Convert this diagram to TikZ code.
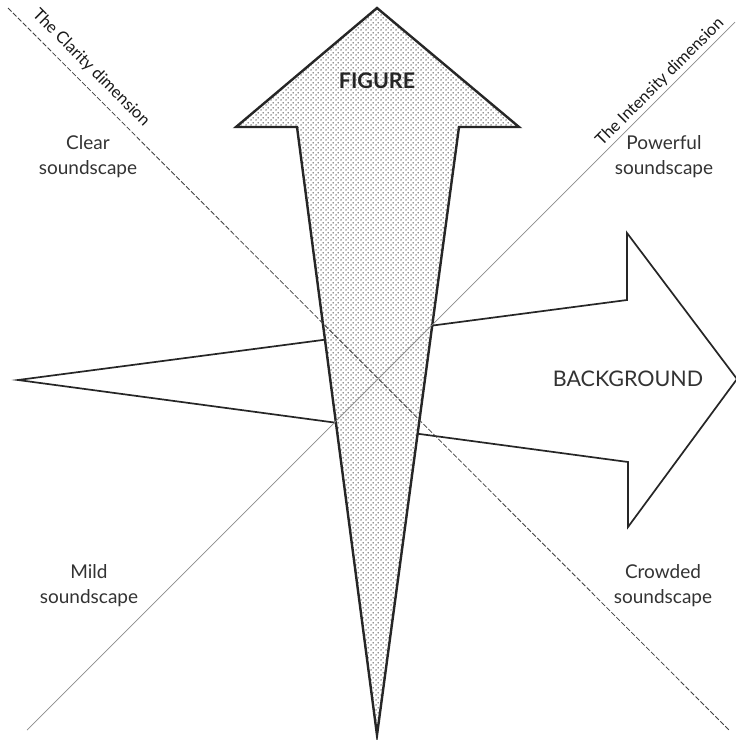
\documentclass[tikz,border=0pt]{standalone}
\usepackage{fontspec}
\setmainfont{Lato}
\usetikzlibrary{patterns.meta}
\tikzdeclarepattern{
  name=sdots,
  type=uncolored,
  bounding box={(0pt,0pt) and (5pt,5pt)},
  tile size={(5pt,5pt)},
  code={
    \fill (1.25pt,1.25pt) circle (0.8pt);
    \fill (3.75pt,3.75pt) circle (0.8pt);
  }
}
\tikzset{
  arrowline/.style={line width=2.4pt, line join=miter, draw=black!85},
  bgline/.style={line width=1.7pt, line join=miter, draw=black!85},
  clarity/.style={line width=0.8pt, draw=black!75, dash pattern=on 5pt off 2pt},
  intensity/.style={line width=0.7pt, draw=black!45},
  lbl/.style={font=\fontsize{19}{25}\selectfont, align=center, text=black!80, inner sep=0pt},
  dimlbl/.style={font=\fontsize{16.5}{18}\selectfont, text=black!90, inner sep=0pt},
}
\begin{document}
\begin{tikzpicture}[x=1pt, y=-1pt]
\useasboundingbox (0,0) rectangle (736,740);
\fill[white] (0,0) rectangle (736,740);
% background arrow
\draw[bgline, fill=white] (18,380) -- (627,300) -- (627,233) -- (737,379) -- (628,527) -- (628,462) -- cycle;
\node[lbl, font=\fontsize{21.5}{25}\selectfont] (bg) at (628,379) {BACKGROUND};
% figure arrow
\path[fill=white] (377,8) -- (519,127) -- (459,127) -- (377,735) -- (297,127) -- (236,127) -- cycle;
\path[pattern={sdots}, pattern color=black!85] (377,8) -- (519,127) -- (459,127) -- (377,735) -- (297,127) -- (236,127) -- cycle;
\draw[arrowline] (377,8) -- (519,127) -- (459,127) -- (377,735) -- (297,127) -- (236,127) -- cycle;
\node[font=\bfseries\fontsize{21.5}{22}\selectfont, text=black!85, inner sep=0pt] (fig) at (377,81) {FIGURE};
% dimension lines
\coordinate (c1) at (8,8);
\coordinate (c2) at (730,731);
\coordinate (i1) at (27,730);
\coordinate (i2) at (735,22);
\draw[clarity] (c1) -- (c2);
\draw[intensity] (i1) -- (i2);
\node[dimlbl, rotate=-45] (cl) at (91,68) {The Clarity dimension};
\node[dimlbl, rotate=45] (il) at (660,82) {The Intensity dimension};
% quadrant labels
\node[lbl] (clear) at (88,157) {Clear\\soundscape};
\node[lbl] (pow) at (664,157) {Powerful\\soundscape};
\node[lbl] (mild) at (89,586) {Mild\\soundscape};
\node[lbl] (crowd) at (663,586) {Crowded\\soundscape};
\end{tikzpicture}
\end{document}
